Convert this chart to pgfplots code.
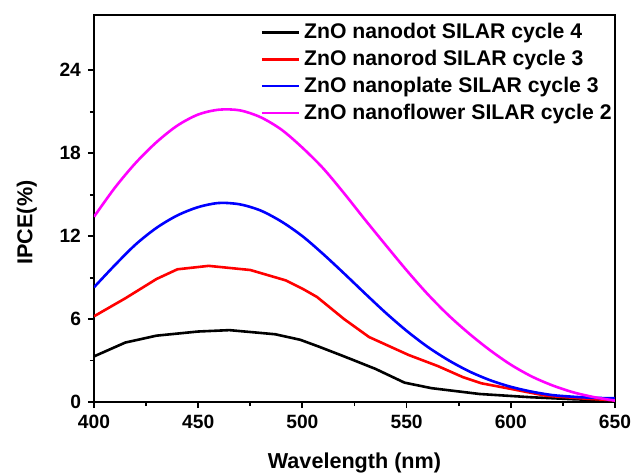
\documentclass[border=0pt]{standalone}
\usepackage{fontspec}
\setmainfont{Liberation Sans}
\usepackage{pgfplots}
\pgfplotsset{compat=1.18}
\definecolor{cmag}{RGB}{255,0,255}
\definecolor{cred}{RGB}{255,0,0}
\definecolor{cblue}{RGB}{0,0,255}

\begin{document}
\begin{tikzpicture}
\begin{axis}[
    at={(0,0)}, anchor=south west,
    scale only axis,
    width=260.5pt, height=193.5pt,
    xmin=400, xmax=650,
    ymin=0, ymax=28,
    xtick={400,450,...,650},
    ytick={0,6,...,24},
    minor x tick num=1,
    minor y tick num=1,
    tick align=outside,
    xtick pos=left, ytick pos=left,
    major tick length=3pt,
    minor tick length=2pt,
    axis line style={line width=1pt},
    every tick/.style={line width=0.9pt, black},
    /pgf/number format/assume math mode=true,
    ticklabel style={font=\fontsize{9.6}{11}\selectfont\bfseries},
    xlabel={Wavelength (nm)},
    ylabel={IPCE(\%)},
    label style={font=\fontsize{10.8}{12}\selectfont\bfseries},
    xlabel style={yshift=-5pt},
    ylabel style={yshift=4.5pt, xshift=-7pt},
    legend style={draw=none, fill=none, at={(1,1)}, anchor=north east,
        xshift=1.5pt, yshift=-1pt,
        font=\fontsize{10.6}{12}\selectfont\bfseries,
        row sep=0.2pt, inner sep=1pt},
    legend cell align=left,
    legend image code/.code={\draw[#1, line width=1.3pt] (0pt,0pt) -- (18.5pt,0pt);},
    every axis plot/.append style={line width=1.3pt},
]
\addplot[black] coordinates {
    (400,3.3)(415,4.3)(430,4.8)(450,5.1)(465,5.2)(487,4.9)(499,4.5)(508,4.0)
    (520,3.3)(535,2.4)(549,1.4)(562,1.0)(585,0.58)(609,0.35)(630,0.2)(650,0.1)
};
\addlegendentry{ZnO nanodot SILAR cycle 4}
\addplot[cred] coordinates {
    (400,6.2)(415,7.5)(430,8.9)(440,9.6)(455,9.85)(475,9.55)(492,8.8)(500,8.2)
    (507,7.6)(520,6.0)(532,4.7)(551,3.4)(565,2.6)(577,1.8)(586,1.35)(600,0.95)
    (617,0.45)(635,0.25)(650,0.12)
};
\addlegendentry{ZnO nanorod SILAR cycle 3}
\addplot[cblue, smooth] coordinates {
    (400,8.3)(410,9.9)(420,11.4)(430,12.6)(440,13.5)(450,14.1)(460,14.4)
    (470,14.3)(480,13.85)(490,13.05)(500,12.0)(510,10.7)(520,9.3)(530,7.86)
    (540,6.45)(550,5.15)(560,4.0)(570,3.03)(580,2.22)(590,1.58)(600,1.1)
    (610,0.75)(620,0.5)(630,0.38)(640,0.3)(650,0.27)
};
\addlegendentry{ZnO nanoplate SILAR cycle 3}
\addplot[cmag, smooth] coordinates {
    (400,13.4)(410,15.5)(420,17.3)(430,18.8)(440,20.0)(450,20.8)(460,21.15)
    (470,21.1)(480,20.6)(490,19.7)(500,18.4)(510,16.9)(520,15.1)(530,13.2)
    (540,11.35)(550,9.53)(560,7.82)(570,6.29)(580,4.95)(590,3.75)(600,2.7)
    (610,1.85)(620,1.2)(630,0.7)(640,0.35)(650,0.1)
};
\addlegendentry{ZnO nanoflower SILAR cycle 2}
\end{axis}
\pgfresetboundingbox
\path[use as bounding box] (-47pt,-35pt) rectangle (274.5pt,201pt);
\end{tikzpicture}
\end{document}
